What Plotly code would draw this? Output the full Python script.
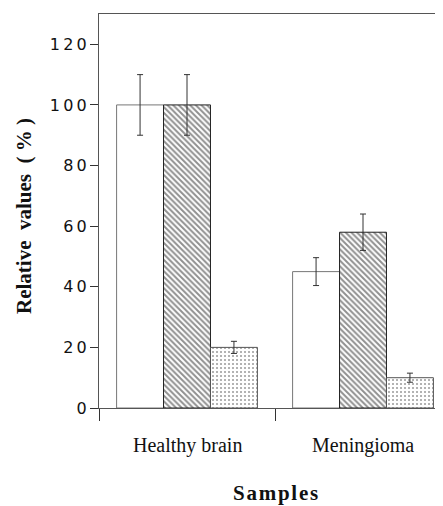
import plotly.graph_objects as go

categories = ["Healthy brain", "Meningioma"]
series_open = [100, 45]
series_open_err = [10, 4.6]
series_hatched = [100, 58]
series_hatched_err = [10, 6]
series_dotted = [20, 10]
series_dotted_err = [2, 1.5]
y_ticks = [0, 20, 40, 60, 80, 100, 120]
y_tick_labels = ["0", "2\u20090", "4\u20090", "6\u20090", "8\u20090", "1\u20090\u20090", "1\u20092\u20090"]

line_col = "#555555"
err = dict(type="data", visible=True, color="#333333", thickness=1, width=3)

fig = go.Figure()
fig.add_bar(x=categories, y=series_open, error_y=dict(array=series_open_err, **err),
            marker=dict(color="white", line=dict(color="#777777", width=1)))
fig.add_bar(x=categories, y=series_hatched, error_y=dict(array=series_hatched_err, **err),
            marker=dict(color="white", line=dict(color="#222222", width=1),
                        pattern=dict(shape="\\", size=4, solidity=0.5, fgcolor="#222222", bgcolor="white")))
fig.add_bar(x=categories, y=series_dotted, error_y=dict(array=series_dotted_err, **err),
            marker=dict(color="white", line=dict(color="#555555", width=1),
                        pattern=dict(shape=".", size=4, solidity=0.2, fgcolor="#333333", bgcolor="white")))

fig.update_layout(
    width=435, height=498,
    margin=dict(l=91, r=0, t=6, b=98, autoexpand=False),
    paper_bgcolor="white", plot_bgcolor="white",
    barmode="group", bargap=0.2, bargroupgap=0,
    showlegend=False,
    xaxis=dict(
        range=[-0.5, 1.4545], showline=True, linecolor=line_col, linewidth=1, mirror=True,
        tickmode="array", tickvals=[-0.5, 0.5, 1.5], ticktext=["", "", ""],
        ticks="outside", ticklen=12, tickcolor="#333333",
        showgrid=False, zeroline=False,
    ),
    yaxis=dict(
        range=[0, 130], showline=True, linecolor=line_col, linewidth=1,
        tickmode="array", tickvals=y_ticks, ticktext=y_tick_labels,
        ticks="outside", ticklen=8, tickcolor="#333333",
        tickfont=dict(family="DejaVu Sans", size=16, color="#111111"),
        showgrid=False, zeroline=False,
    ),
)

for i, c in enumerate(categories):
    fig.add_annotation(x=i, y=0, yref="y", text=c, showarrow=False, yshift=-37,
                       font=dict(family="Liberation Serif", size=20, color="#111111"))

fig.add_annotation(x=0.5, xref="x", y=0, yref="paper", yanchor="middle",
                   text="<b>S\u200aa\u200am\u200ap\u200al\u200ae\u200as</b>", showarrow=False, yshift=-85,
                   font=dict(family="Liberation Serif", size=21, color="#111111"))
fig.add_annotation(x=0, xref="paper", y=0.5, yref="paper", xanchor="center",
                   text="<b>Relative  values  ( % )</b>", textangle=-90, showarrow=False,
                   xshift=-75, yshift=-5,
                   font=dict(family="Liberation Serif", size=21, color="#111111"))

fig.write_html("out.html")
